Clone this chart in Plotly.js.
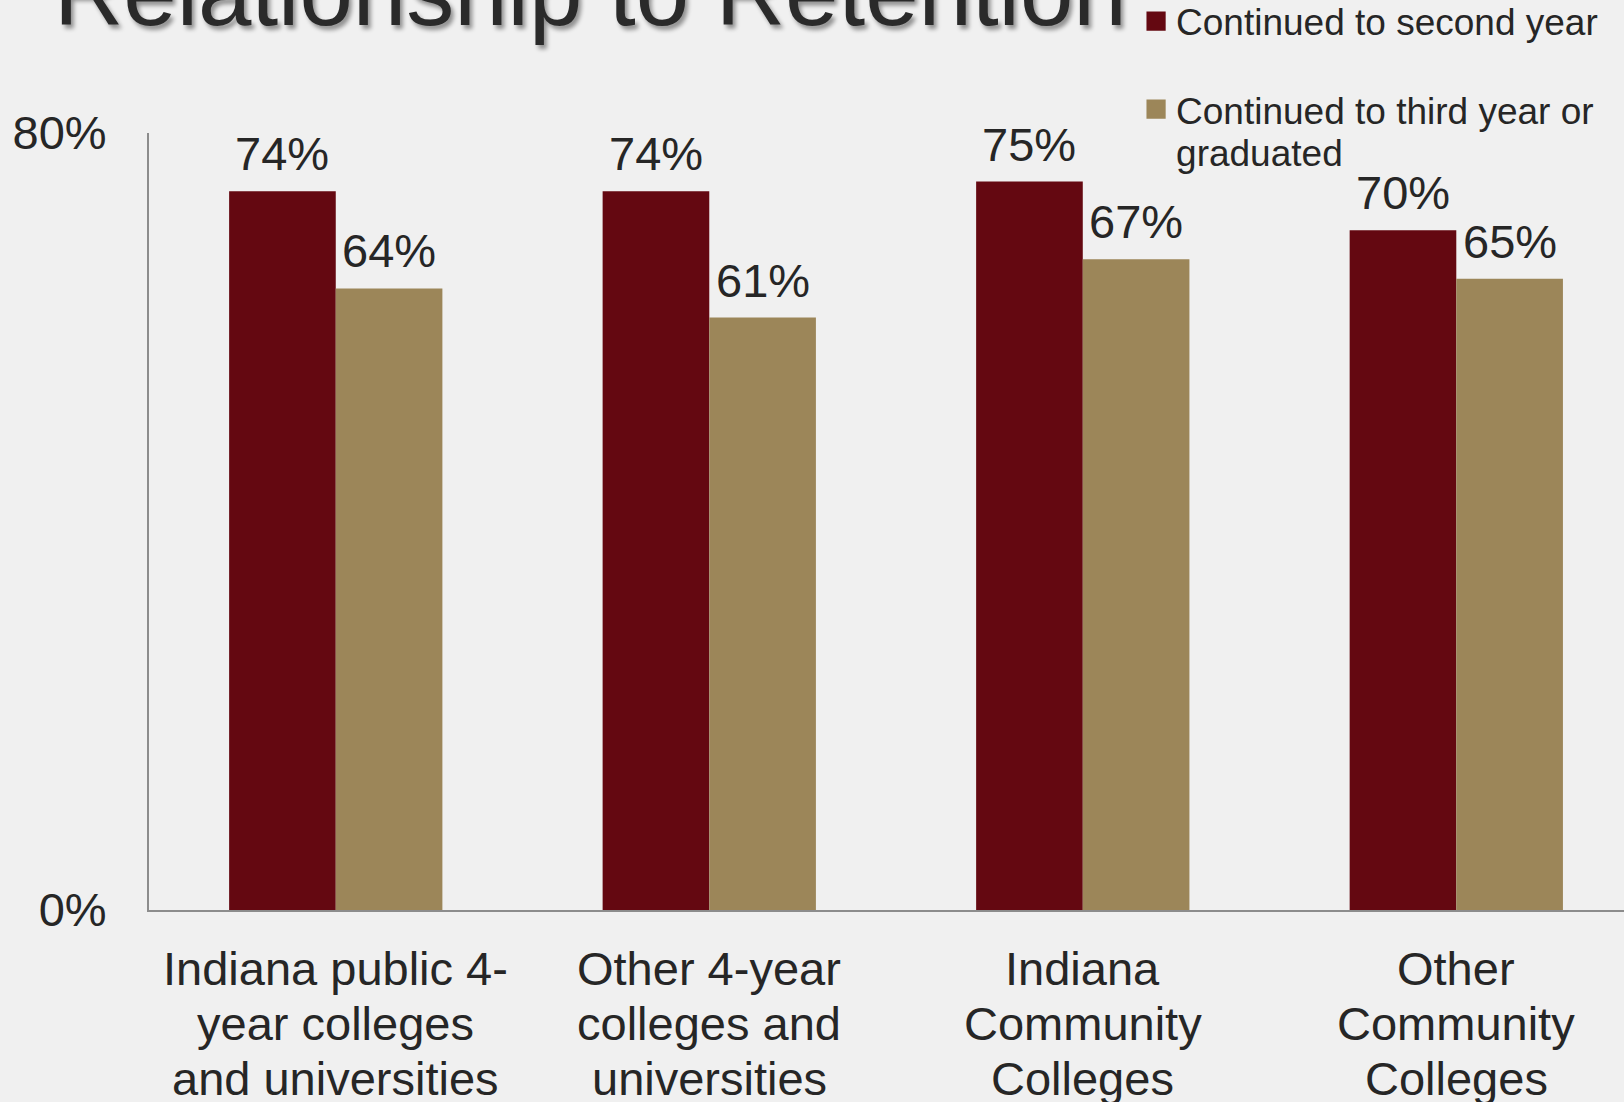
<!DOCTYPE html>
<html>
<head>
<meta charset="utf-8">
<script src="https://cdn.plot.ly/plotly-3.0.1.min.js"></script>
<style>
  html, body { margin: 0; padding: 0; background: #f0f0f0; }
  #chart { width: 1624px; height: 1102px; }
</style>
</head>
<body>
<div id="chart"></div>
<script>
// ---- data ----
var titleText = "Relationship to Retention";
var categoryLines = [
  ["Indiana public 4-", "year colleges", "and universities"],
  ["Other 4-year", "colleges and", "universities"],
  ["Indiana", "Community", "Colleges"],
  ["Other", "Community", "Colleges"]
];
var categories = categoryLines.map(function (l) { return l.join(" "); });
var seriesNames = ["Continued to second year", "Continued to third year or<br>graduated"];
var secondYear = [0.74, 0.74, 0.75, 0.70];
var thirdYear = [0.64, 0.61, 0.67, 0.65];
var yTickVals = [0, 0.8];
var yTickText = ["0%", "80%"];

// ---- styles ----
var FONT = "Liberation Sans, Arial, Helvetica, sans-serif";
var TEXT = "#262626";
var RED = "#640811";
var TAN = "#9c8659";
var BG = "#f0f0f0";
var W = 1624, H = 1102;
var MARGIN = { l: 149, r: 0, t: 133, b: 192, pad: 0, autoexpand: false };
var XRANGE = [-0.5, 3.449];
var BARGAP = 0.429;

// pixel width of one category unit, derived from the layout above
var unitPx = (W - MARGIN.l - MARGIN.r) / (XRANGE[1] - XRANGE[0]);
var halfBarPx = unitPx * (1 - BARGAP) / 4;

function barTrace(name, values, color, group) {
  return {
    type: "bar",
    name: name,
    x: categories,
    y: values,
    marker: { color: color, line: { width: 0 } },
    legendgroup: group,
    hoverinfo: "skip"
  };
}

var data = [
  barTrace(seriesNames[0], secondYear, RED, "g1"),
  barTrace(seriesNames[1], thirdYear, TAN, "g2")
];

var annotations = [{
  text: titleText,
  xref: "paper", yref: "paper",
  x: -0.066, y: 1.182,
  xanchor: "left", yanchor: "middle",
  showarrow: false,
  font: { family: FONT, size: 96, color: "#2a2a2a", shadow: "3px 4px 4px rgba(0,0,0,0.40)" }
}];

// value labels above each bar
[secondYear, thirdYear].forEach(function (vals, s) {
  vals.forEach(function (v, i) {
    annotations.push({
      text: Math.round(v * 100) + "%",
      xref: "x", yref: "y",
      x: categories[i], y: v,
      xanchor: "center", yanchor: "bottom",
      xshift: (s === 0 ? -1 : 1) * halfBarPx,
      yshift: 9,
      showarrow: false,
      font: { family: FONT, size: 47, color: TEXT }
    });
  });
});

// category labels, one line each
var lineShift = [-58, -113, -168];
categoryLines.forEach(function (lines, i) {
  lines.forEach(function (line, j) {
    annotations.push({
      text: line,
      xref: "x", yref: "paper",
      x: categories[i], y: 0,
      xanchor: "center", yanchor: "middle",
      yshift: lineShift[j],
      showarrow: false,
      font: { family: FONT, size: 47, color: TEXT }
    });
  });
});

var layout = {
  width: W,
  height: H,
  paper_bgcolor: BG,
  plot_bgcolor: BG,
  margin: MARGIN,
  font: { family: FONT, color: TEXT },
  barmode: "group",
  bargap: BARGAP,
  bargroupgap: 0,
  showlegend: true,
  legend: {
    xref: "paper", yref: "paper",
    x: 0.6692, y: 1.1834,
    xanchor: "left", yanchor: "top",
    bgcolor: "rgba(0,0,0,0)",
    font: { family: FONT, size: 37, color: TEXT },
    traceorder: "grouped",
    tracegroupgap: 37,
    valign: "top"
  },
  xaxis: {
    type: "category",
    range: XRANGE,
    showline: true, linecolor: "#8c8c8c", linewidth: 2,
    showgrid: false, zeroline: false,
    showticklabels: false, ticks: "",
    fixedrange: true
  },
  yaxis: {
    range: [0, 0.8],
    tickvals: yTickVals,
    ticktext: yTickText,
    showline: true, linecolor: "#8c8c8c", linewidth: 2,
    showgrid: false, zeroline: false,
    ticks: "outside", ticklen: 31, tickcolor: "rgba(0,0,0,0)",
    tickfont: { family: FONT, size: 47, color: TEXT },
    fixedrange: true
  },
  annotations: annotations
};

Plotly.newPlot("chart", data, layout, { displayModeBar: false, staticPlot: true }).then(function () {
  document.querySelectorAll(".legend .legendpoints path").forEach(function (p) {
    var t = p.getAttribute("transform") || "";
    p.setAttribute("transform", t + " scale(1.6)");
  });
  // tighter line spacing for the wrapped legend entry
  document.querySelectorAll(".legend .legendtext tspan.line").forEach(function (ts, k) {
    if (ts.getAttribute("dy") === "1.3em") ts.setAttribute("dy", "1.14em");
  });
});
</script>
</body>
</html>
